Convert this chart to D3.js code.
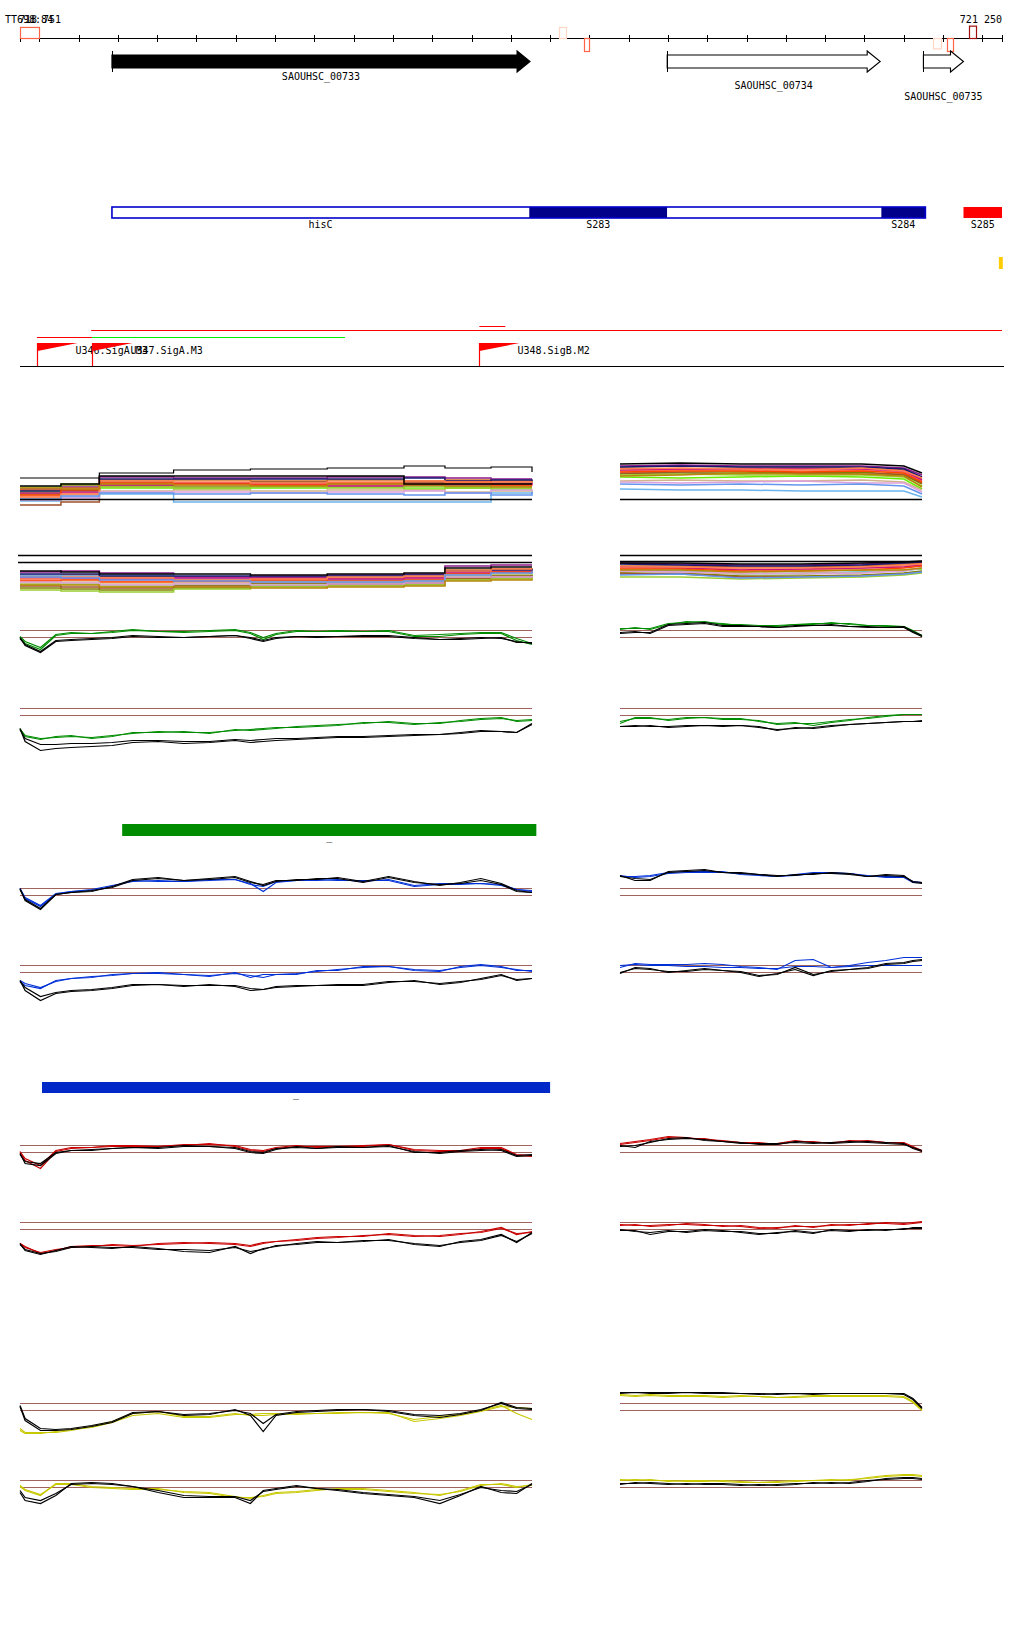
<!DOCTYPE html>
<html>
<head>
<meta charset="utf-8">
<script src="https://cdn.jsdelivr.net/npm/d3@7"></script>
<style>
body { margin: 0; background: #fff; }
svg { display: block; }
text { font-family: "DejaVu Sans Mono", monospace; font-size: 10px; fill: #000; }
</style>
</head>
<body>
<svg id="chart" width="1024" height="1640"></svg>
<script>
// region shown on the ruler
var regionStart = 718751, regionEnd = 721250;
var regionLabels = ["TT698:84", "718 751", "721 250"];

// start sites drawn on the ruler
var tssStart = [718751, 720123, 720187, 721075, 721111, 721167];
var tssEnd = [718799, 720141, 720200, 721096, 721126, 721185];
var tssStrand = ["+", "+", "-", "-", "-", "+"];
var tssScore = [0.85, 0.85, 1, 0.8, 1, 0.95];
var tssLevel = [2, 1, 2, 1, 2, 3];

// genes
var geneNames = ["SAOUHSC_00733", "SAOUHSC_00734", "SAOUHSC_00735"];
var geneStart = [718985, 720398, 721050];
var geneEnd = [720049, 720940, 721152];
var geneFilled = [true, false, false];

// operon track
var operonNames = ["hisC", "S283", "", "S284", "S285"];
var operonStart = [718985, 720047, 720398, 720943, 721152];
var operonEnd = [720047, 720398, 720943, 721055, 721250];
var operonKind = ["open", "solid", "open", "solid", "new"];
var markStart = [721242], markEnd = [721252];

// promoters and segments
var promoterNames = ["U346.SigA.M3", "U347.SigA.M3", "U348.SigB.M2"];
var promoterPos = [718794, 718934, 719920];
var segStart = [718932, 719920, 718794, 718934];
var segEnd = [721250, 719986, 718934, 719578];
var segKind = ["red", "red", "red", "green"];
var segRow = [1, 0, 2, 2];

// condition bars
var greenBar = [719011, 720065];
var blueBar = [718807, 720100];

// probe positions (percent along each profile)
var leftPos = [0, 1, 4, 7, 10, 14, 18, 22, 27, 32, 37, 42, 45, 47.5, 50, 54, 58, 62, 67, 72, 77, 82, 86, 90, 94, 97, 100];
var rightPos = [0, 5, 10, 16, 22, 28, 34, 40, 46, 52, 58, 64, 70, 76, 82, 88, 94, 97, 100];
var thresholds = [0, -7];

// profiles, left gene
var p3La = [-7,-13,-19,-5,-3,-3,-2,0,-1,-2,-1,0,-3,-9,-4,-1,-1,-1,-1,-1,-6,-6,-4,-3,-3,-10,-14];
var p3Lb = [-6,-11,-17,-4,-2,-3,-1,1,-1,-1,0,1,-2,-7,-3,0,-1,0,-1,0,-5,-4,-3,-2,-2,-8,-13];
var p3Lc = [-7,-15,-22,-11,-10,-9,-8,-6,-7,-7,-6,-5,-7,-10,-7,-6,-6,-6,-6,-6,-8,-9,-8,-7,-8,-11,-13];
var p3Ld = [-8,-14,-21,-10,-9,-8,-7,-5,-6,-7,-6,-5,-8,-11,-8,-6,-7,-6,-5,-5,-7,-9,-9,-8,-7,-12,-12];
var p4La = [-20,-28,-31,-28,-27,-30,-28,-24,-24,-23,-25,-21,-22,-21,-20,-18,-17,-16,-15,-13,-15,-15,-12,-10,-9,-13,-12];
var p4Lb = [-21,-27,-30,-29,-28,-29,-27,-25,-23,-24,-24,-22,-21,-20,-19,-19,-18,-17,-14,-14,-16,-14,-13,-11,-10,-12,-11];
var p4Lc = [-20,-33,-42,-40,-39,-38,-37,-34,-33,-35,-34,-32,-34,-33,-32,-31,-30,-29,-29,-28,-27,-26,-25,-23,-23,-24,-15];
var p4Ld = [-21,-30,-36,-36,-35,-35,-34,-32,-32,-33,-33,-31,-32,-31,-30,-30,-29,-28,-28,-27,-26,-26,-24,-22,-23,-24,-16];
var p5La = [0,-10,-18,-6,-3,-2,2,8,7,7,9,9,5,-3,6,8,8,9,7,9,3,5,5,5,3,-1,-2];
var p5Lb = [0,-9,-17,-5,-3,-1,3,7,8,7,8,9,4,2,7,8,9,8,8,8,2,4,4,5,4,-1,-3];
var p5Lc = [0,-12,-21,-6,-4,-3,2,9,11,8,10,12,7,3,7,9,9,11,7,12,7,3,6,10,5,-2,-4];
var p5Ld = [-1,-11,-20,-6,-4,-2,1,8,10,8,9,11,6,4,8,8,10,10,6,11,6,4,5,8,4,-3,-4];
var p6La = [-16,-20,-23,-15,-13,-11,-10,-8,-7,-9,-11,-7,-12,-9,-9,-9,-5,-5,-1,-1,-5,-6,-1,1,-1,-5,-5];
var p6Lb = [-15,-18,-22,-16,-13,-12,-9,-8,-8,-9,-10,-8,-10,-12,-9,-8,-6,-4,-2,-1,-4,-5,-2,0,-2,-4,-6];
var p6Lc = [-15,-25,-35,-28,-26,-25,-23,-20,-19,-21,-19,-21,-25,-24,-22,-21,-20,-20,-20,-17,-15,-19,-17,-13,-9,-15,-13];
var p6Ld = [-16,-22,-31,-27,-25,-24,-22,-19,-19,-20,-20,-20,-23,-24,-21,-20,-20,-19,-19,-16,-16,-18,-16,-14,-10,-14,-13];
var p7La = [-7,-15,-23,-6,-3,-2,-1,-1,-1,0,2,-1,-5,-6,-3,-1,-1,-1,-1,1,-5,-6,-6,-3,-3,-10,-11];
var p7Lb = [-6,-13,-20,-5,-2,-2,0,0,-1,1,1,0,-4,-5,-2,0,-2,-1,0,1,-4,-5,-5,-2,-2,-9,-10];
var p7Lc = [-8,-18,-20,-8,-5,-5,-3,-2,-2,0,-1,-3,-7,-8,-4,-1,-3,-1,-2,0,-7,-7,-5,-4,-5,-11,-10];
var p7Ld = [-9,-16,-18,-7,-5,-4,-3,-2,-3,-1,-1,-2,-6,-7,-3,-2,-3,-2,-2,-1,-6,-8,-6,-5,-4,-10,-9];
var p8La = [-21,-24,-31,-28,-24,-23,-23,-24,-21,-20,-21,-22,-24,-21,-19,-17,-15,-14,-14,-11,-13,-14,-12,-9,-5,-12,-9];
var p8Lb = [-21,-25,-30,-27,-25,-24,-22,-23,-22,-21,-20,-21,-23,-20,-19,-18,-16,-15,-13,-12,-14,-13,-11,-10,-6,-11,-10];
var p8Lc = [-21,-28,-32,-28,-24,-25,-26,-24,-26,-29,-30,-24,-31,-26,-24,-21,-19,-20,-19,-17,-22,-24,-19,-17,-12,-20,-10];
var p8Ld = [-22,-27,-31,-29,-25,-24,-25,-25,-27,-27,-28,-25,-29,-27,-23,-22,-20,-20,-18,-18,-21,-23,-20,-18,-13,-19,-11];
var p9La = [-25,-29,-29,-29,-27,-23,-18,-10,-8,-13,-13,-10,-12,-12,-11,-10,-10,-10,-9,-10,-16,-13,-11,-7,-2,-10,-16];
var p9Lb = [-27,-30,-30,-28,-26,-24,-19,-12,-10,-14,-14,-11,-11,-10,-10,-11,-10,-9,-9,-9,-18,-15,-12,-8,-3,-4,-5];
var p9Lc = [-3,-17,-27,-27,-26,-23,-19,-10,-8,-12,-11,-6,-12,-28,-12,-9,-8,-7,-6,-8,-12,-14,-11,-7,1,-4,-5];
var p9Ld = [-2,-15,-25,-26,-25,-22,-18,-9,-8,-11,-10,-7,-10,-20,-11,-8,-7,-6,-6,-7,-11,-12,-10,-6,0,-5,-6];
var p10La = [-6,-10,-15,-3,-3,-6,-7,-8,-8,-12,-13,-17,-17,-16,-13,-12,-10,-8,-8,-10,-12,-15,-10,-4,-4,-7,-4];
var p10Lb = [-5,-9,-14,-4,-4,-7,-8,-9,-9,-11,-12,-16,-18,-15,-12,-11,-9,-9,-9,-11,-13,-14,-11,-5,-3,-6,-5];
var p10Lc = [-12,-20,-23,-15,-3,-2,-3,-6,-12,-17,-17,-17,-23,-10,-8,-5,-8,-10,-13,-15,-17,-23,-15,-6,-12,-13,-3];
var p10Ld = [-10,-17,-20,-13,-4,-3,-4,-6,-10,-15,-16,-16,-20,-11,-9,-6,-8,-9,-12,-14,-16,-20,-14,-7,-10,-11,-4];

// profiles, right gene
var p3Ra = [2,2,2,7,8,9,6,6,5,5,6,7,7,7,5,4,4,0,-5];
var p3Rb = [1,3,1,6,9,8,7,5,4,4,6,6,8,6,5,5,4,-1,-6];
var p3Rc = [-3,-2,-2,6,7,8,5,5,4,3,5,5,6,4,4,3,4,-1,-5];
var p3Rd = [-2,-1,-3,5,6,7,4,4,4,3,4,5,5,4,3,3,3,-2,-6];
var p4Ra = [-15,-9,-9,-12,-10,-9,-10,-10,-13,-15,-14,-17,-14,-12,-9,-7,-6,-6,-6];
var p4Rb = [-13,-10,-10,-11,-9,-9,-11,-11,-12,-16,-15,-15,-13,-11,-10,-8,-6,-6,-6];
var p4Rc = [-18,-17,-18,-18,-17,-17,-17,-17,-18,-22,-19,-20,-18,-16,-15,-14,-13,-13,-13];
var p4Rd = [-18,-18,-17,-19,-18,-17,-18,-17,-19,-21,-20,-19,-17,-16,-15,-14,-13,-13,-12];
var p5Ra = [12,12,13,16,17,17,17,14,13,12,14,16,16,15,12,12,12,7,6];
var p5Rb = [13,11,12,15,16,16,16,15,14,12,13,15,15,15,13,11,11,6,6];
var p5Rc = [13,8,8,17,18,19,16,15,14,12,14,14,16,15,12,13,12,7,6];
var p5Rd = [12,10,9,16,17,18,16,16,14,13,13,15,15,14,12,14,13,6,5];
var p6Ra = [-2,2,1,1,1,2,1,-1,-2,-4,5,6,-2,0,3,5,8,8,8];
var p6Rb = [0,1,0,0,-1,-1,-2,-2,-3,-3,-1,-1,-2,-1,0,0,0,0,0];
var p6Rc = [-8,-2,-3,-7,-5,-3,-5,-6,-10,-9,-2,-9,-6,-4,-2,2,3,5,6];
var p6Rd = [-7,-3,-4,-6,-6,-4,-5,-7,-11,-8,-4,-10,-5,-4,-3,1,2,4,5];
var p7Ra = [2,4,6,9,8,6,5,3,2,2,5,3,3,4,5,3,2,-2,-6];
var p7Rb = [1,3,5,8,7,7,4,3,3,1,4,4,2,5,4,3,3,-1,-5];
var p7Rc = [-1,0,3,7,8,5,4,3,1,1,4,3,2,3,4,3,2,-3,-6];
var p7Rd = [0,-2,4,6,7,6,4,2,2,2,3,2,3,4,3,2,1,-2,-5];
var p8Ra = [-3,-2,-4,-3,-1,-2,-4,-3,-5,-6,-3,-5,-2,-3,-1,-1,-2,-1,0];
var p8Rb = [-2,-3,-3,-2,-2,-3,-3,-4,-6,-5,-4,-4,-3,-2,-2,0,-1,0,1];
var p8Rc = [-8,-8,-12,-9,-9,-7,-8,-10,-12,-10,-9,-11,-7,-8,-8,-7,-7,-5,-5];
var p8Rd = [-7,-9,-10,-8,-10,-8,-9,-9,-11,-11,-8,-10,-8,-9,-7,-8,-6,-6,-6];
var p9Ra = [9,8,9,8,8,8,7,8,7,6,7,8,8,8,8,8,7,2,-6];
var p9Rb = [8,7,8,7,7,7,6,7,7,6,6,7,7,7,7,7,6,1,-7];
var p9Rc = [11,11,11,11,11,11,11,10,9,10,10,10,10,10,10,10,10,5,-4];
var p9Rd = [10,11,10,10,11,10,10,10,10,9,10,9,10,10,10,10,9,4,-5];
var p10Ra = [0,1,0,0,-1,-1,0,-1,-2,-2,-1,0,1,0,3,5,6,6,5];
var p10Rb = [1,0,1,-1,0,0,-1,-2,-2,-1,0,0,0,1,2,4,5,5,4];
var p10Rc = [-3,-3,-2,-3,-4,-3,-3,-4,-5,-4,-3,-3,-2,-3,-1,2,3,3,2];
var p10Rd = [-4,-2,-3,-4,-3,-4,-4,-5,-4,-5,-4,-2,-3,-2,0,1,2,2,1];

// many-condition profiles
var mcPosL = [0, 8, 15.5, 30, 45, 60, 75, 83, 92, 100];
var mcPosR = [0, 20, 40, 60, 80, 94, 100];
var mc1L = [
  [10,12,22,21,21,22,22,21,20,20], [9,11,19,19,18,19,18,19,18,17], [5,14,13,12,13,14,13,12,13,13],
  [7,8,11,10,11,12,10,11,10,10], [3,6,15,14,15,14,16,15,14,13], [-2,2,5,-3,-3,-3,-3,-3,6,8],
  [-6,-3,17,16,17,16,17,16,16,15], [8,9,20,20,20,20,21,18,19,18], [6,7,14,16,15,13,14,14,15,16],
  [4,9,16,15,14,16,15,17,14,14], [1,4,8,9,8,9,9,7,8,9], [12,15,12,11,12,11,12,11,11,11],
  [-1,1,7,7,6,7,8,6,9,10], [2,5,18,17,16,17,18,17,17,17], [0,3,6,5,6,5,4,6,4,7],
  [11,10,15,14,13,15,14,13,12,12], [13,15,23,23,23,23,15,15,15,15]
];
var mc1LTop = [21,21,26,29,30,31,33,31,32,27];
var mc1R = [
  [33,34,33,33,33,31,24], [31,30,31,31,31,29,20], [25,27,27,26,27,24,15], [22,21,22,23,22,20,10],
  [28,29,29,28,29,27,18], [10,9,9,8,8,8,2], [26,26,25,26,25,25,16], [32,33,32,32,32,30,22],
  [29,30,30,30,30,28,19], [27,28,28,27,28,26,17], [18,19,18,18,19,17,9], [24,25,24,24,24,22,13],
  [17,16,17,18,16,16,7], [30,31,30,29,31,28,21], [15,14,15,14,15,13,5], [23,24,26,25,25,23,12],
  [35,36,35,35,35,33,26]
];
var mc2L = [
  [-10,-9,-11,-15,-14,-13,-12,-4,-3,-3], [-14,-13,-15,-18,-17,-16,-15,-8,-7,-6], [-26,-27,-28,-26,-24,-23,-22,-17,-16,-15],
  [-22,-22,-24,-23,-22,-21,-20,-14,-13,-12], [-18,-17,-19,-20,-19,-18,-17,-10,-9,-8], [-13,-14,-13,-17,-19,-18,-18,-12,-11,-10],
  [-24,-25,-26,-24,-21,-22,-21,-16,-14,-13], [-12,-12,-14,-14,-15,-14,-13,-9,-8,-7], [-16,-16,-17,-16,-16,-17,-16,-11,-10,-9],
  [-19,-18,-20,-19,-18,-19,-18,-12,-10,-11], [-21,-20,-22,-21,-20,-20,-19,-13,-12,-12], [-28,-29,-30,-27,-25,-24,-23,-18,-17,-16],
  [-20,-21,-23,-22,-23,-22,-21,-15,-15,-14], [-17,-15,-16,-18,-17,-15,-14,-9,-7,-7], [-15,-16,-18,-19,-20,-20,-19,-13,-11,-9],
  [-23,-23,-25,-25,-26,-25,-24,-19,-18,-17], [-9,-10,-12,-12,-13,-12,-11,-6,-5,-5]
];
var mc2R = [
  [-2,-3,-4,-4,-3,-2,-1], [-5,-5,-6,-6,-5,-3,-2], [-13,-12,-15,-15,-14,-12,-10], [-11,-10,-12,-13,-11,-9,-8],
  [-7,-7,-8,-9,-7,-5,-4], [-9,-10,-13,-12,-11,-10,-7], [-12,-13,-16,-16,-15,-13,-11], [-3,-4,-5,-5,-4,-2,-1],
  [-6,-7,-9,-8,-7,-6,-4], [-8,-8,-10,-10,-9,-7,-5], [-10,-11,-13,-12,-12,-9,-7], [-16,-16,-18,-17,-16,-14,-12],
  [-10,-11,-12,-13,-12,-10,-7], [-6,-6,-7,-7,-6,-4,-3], [-14,-13,-17,-16,-15,-13,-11], [-9,-9,-11,-10,-9,-9,-7],
  [-2,-2,-3,-3,-2,-1,0]
];
var mcColors = ["#8b1a8b","#d2691e","#808000","#66ee00","#fa8072","#6cb4ee","#a0522d","#191970",
  "#c71585","#ff4500","#d2b48c","#9acd32","#dda0dd","#ff7f50","#6495ed","#b8860b","#000000"];

var svg = d3.select("#chart");
var x = d3.scaleLinear().domain([regionStart, regionEnd]).range([20, 1002]);
var xL = d3.scaleLinear().domain([0, 100]).range([20, 532]);
var xR = d3.scaleLinear().domain([0, 100]).range([620, 922]);
function px(v) { return Math.round(v) + 0.5; }

// ruler
var rulerY = 38.5;
svg.append("line").attr("x1", x(regionStart)).attr("x2", x(regionEnd))
  .attr("y1", rulerY).attr("y2", rulerY).attr("stroke", "#000");
var tickVals = [regionStart].concat(x.ticks(25), [regionEnd]);
svg.selectAll(".tick").data(tickVals).enter().append("line")
  .attr("x1", function(d){ return px(x(d)); }).attr("x2", function(d){ return px(x(d)); })
  .attr("y1", 35).attr("y2", 42).attr("stroke", "#000");
svg.append("text").attr("x", 5).attr("y", 23).text(regionLabels[0]);
svg.append("text").attr("x", 19).attr("y", 23).text(regionLabels[1]);
svg.append("text").attr("x", 1002).attr("y", 23).attr("text-anchor", "end").text(regionLabels[2]);

var tssH = d3.scaleLinear().domain([0, 1]).range([0, 13]);
var tssCol = d3.scaleOrdinal().domain([1, 2, 3]).range(["#ffd6c4", "#ff6446", "#a01010"]);
tssStart.forEach(function(s, i){
  var h = tssH(tssScore[i]);
  svg.append("rect").attr("x", px(x(s))).attr("width", Math.max(4, Math.round(x(tssEnd[i]) - x(s))))
    .attr("y", tssStrand[i] === "+" ? rulerY - h : rulerY).attr("height", h)
    .attr("fill", "none").attr("stroke", tssCol(tssLevel[i])).attr("stroke-width", 1.2);
});

// genes
var geneY = 61.5, bodyH = 6.5, headH = 10.5, headL = 13;
var geneLabelY = [80, 89, 100];
geneNames.forEach(function(name, i){
  var x0 = x(geneStart[i]), x1 = x(geneEnd[i]);
  var p = d3.path();
  p.moveTo(x0, geneY - bodyH); p.lineTo(x1 - headL, geneY - bodyH); p.lineTo(x1 - headL, geneY - headH);
  p.lineTo(x1, geneY); p.lineTo(x1 - headL, geneY + headH); p.lineTo(x1 - headL, geneY + bodyH);
  p.lineTo(x0, geneY + bodyH); p.closePath();
  svg.append("path").attr("d", p.toString())
    .attr("fill", geneFilled[i] ? "#000" : "#fff").attr("stroke", "#000").attr("stroke-width", 1.1);
  svg.append("line").attr("x1", px(x0)).attr("x2", px(x0)).attr("y1", geneY - headH).attr("y2", geneY + headH)
    .attr("stroke", "#000");
  svg.append("text").attr("x", (x0 + x1) / 2).attr("y", geneLabelY[i]).attr("text-anchor", "middle").text(name);
});

// operon track
var opY = 207, opH = 11;
var opFill = { open: "#fff", solid: "#00008b", "new": "#ff0000" };
operonNames.forEach(function(name, i){
  svg.append("rect").attr("x", x(operonStart[i])).attr("width", x(operonEnd[i]) - x(operonStart[i]))
    .attr("y", opY).attr("height", opH).attr("fill", opFill[operonKind[i]]);
  if (name) svg.append("text").attr("x", (x(operonStart[i]) + x(operonEnd[i])) / 2).attr("y", 228)
    .attr("text-anchor", "middle").text(name);
});
svg.append("rect").attr("x", x(operonStart[0])).attr("width", x(operonEnd[3]) - x(operonStart[0]))
  .attr("y", opY).attr("height", opH).attr("fill", "none").attr("stroke", "#0000cc").attr("stroke-width", 1.6);
svg.append("rect").attr("x", x(markStart[0])).attr("width", x(markEnd[0]) - x(markStart[0]))
  .attr("y", 257).attr("height", 12).attr("fill", "#ffcc00");

// promoter track
var segY = [326.5, 330.5, 337.5];
var segCol = { red: "#ff0000", green: "#00ee00" };
segStart.forEach(function(s, i){
  svg.append("line").attr("x1", x(s)).attr("x2", x(segEnd[i])).attr("y1", segY[segRow[i]]).attr("y2", segY[segRow[i]])
    .attr("stroke", segCol[segKind[i]]);
});
svg.append("line").attr("x1", 20).attr("x2", 1004).attr("y1", 366.5).attr("y2", 366.5).attr("stroke", "#000").attr("stroke-width", 1.2);
promoterNames.forEach(function(name, i){
  var x0 = px(x(promoterPos[i]));
  svg.append("line").attr("x1", x0).attr("x2", x0).attr("y1", 343).attr("y2", 366).attr("stroke", "#ff0000").attr("stroke-width", 1.2);
  svg.append("path").attr("d", "M" + x0 + ",343L" + (x0 + 40) + ",343L" + x0 + ",351Z").attr("fill", "#ff0000");
  svg.append("text").attr("x", x0 + 38).attr("y", 354).text(name);
});

// condition bars
svg.append("rect").attr("x", x(greenBar[0])).attr("width", x(greenBar[1]) - x(greenBar[0]))
  .attr("y", 824).attr("height", 12).attr("fill", "#008c00");
svg.append("text").attr("x", (x(greenBar[0]) + x(greenBar[1])) / 2).attr("y", 840).attr("text-anchor", "middle").text("_");
svg.append("rect").attr("x", x(blueBar[0])).attr("width", x(blueBar[1]) - x(blueBar[0]))
  .attr("y", 1082).attr("height", 11).attr("fill", "#0028c8");
svg.append("text").attr("x", (x(blueBar[0]) + x(blueBar[1])) / 2).attr("y", 1097).attr("text-anchor", "middle").text("_");

// many-condition panels
function mcPanel(series, pos, xs, base, curve, width) {
  var y = d3.scaleLinear().domain([0, 1]).range([base, base - 1]);
  var line = d3.line().x(function(d, i){ return xs(pos[i]); }).y(function(d){ return y(d); }).curve(curve);
  series.forEach(function(s, k){
    svg.append("path").attr("d", line(s)).attr("fill", "none")
      .attr("stroke", mcColors[k % mcColors.length]).attr("stroke-width", width);
  });
  return { y: y, line: line };
}
var m1 = mcPanel(mc1L, mcPosL, xL, 499, d3.curveStepAfter, 1.5);
svg.append("path").attr("d", m1.line(mc1LTop)).attr("fill", "none").attr("stroke", "#000").attr("stroke-width", 1.2);
mcPanel(mc1R, mcPosR, xR, 499, d3.curveLinear, 1.5);
mcPanel(mc2L, mcPosL, xL, 562, d3.curveStepAfter, 1.5);
mcPanel(mc2R, mcPosR, xR, 561, d3.curveLinear, 1.5);
[[20, 532, 499.5], [620, 922, 499.5], [18, 532, 555.5], [18, 532, 562.5], [620, 922, 555.5], [620, 922, 561.5]]
  .forEach(function(r){
    svg.append("line").attr("x1", r[0]).attr("x2", r[1]).attr("y1", r[2]).attr("y2", r[2])
      .attr("stroke", "#000").attr("stroke-width", 1.3);
  });

// two-condition panels
var panels = [
  { top: 630.5, color: "#008c00", L: [p3La, p3Lb, p3Lc, p3Ld], R: [p3Ra, p3Rb, p3Rc, p3Rd] },
  { top: 708.5, color: "#008c00", L: [p4La, p4Lb, p4Lc, p4Ld], R: [p4Ra, p4Rb, p4Rc, p4Rd] },
  { top: 888.5, color: "#0030d8", L: [p5La, p5Lb, p5Lc, p5Ld], R: [p5Ra, p5Rb, p5Rc, p5Rd] },
  { top: 965.5, color: "#0030d8", L: [p6La, p6Lb, p6Lc, p6Ld], R: [p6Ra, p6Rb, p6Rc, p6Rd] },
  { top: 1145.5, color: "#c80000", L: [p7La, p7Lb, p7Lc, p7Ld], R: [p7Ra, p7Rb, p7Rc, p7Rd] },
  { top: 1222.5, color: "#c80000", L: [p8La, p8Lb, p8Lc, p8Ld], R: [p8Ra, p8Rb, p8Rc, p8Rd] },
  { top: 1403.5, color: "#c8c800", L: [p9La, p9Lb, p9Lc, p9Ld], R: [p9Ra, p9Rb, p9Rc, p9Rd] },
  { top: 1480.5, color: "#c8c800", L: [p10La, p10Lb, p10Lc, p10Ld], R: [p10Ra, p10Rb, p10Rc, p10Rd] }
];
panels.forEach(function(p){
  var y = d3.scaleLinear().domain([0, 1]).range([p.top, p.top - 1]);
  [[p.L, leftPos, xL], [p.R, rightPos, xR]].forEach(function(side){
    var xs = side[2], pos = side[1];
    thresholds.forEach(function(t){
      svg.append("line").attr("x1", xs.range()[0]).attr("x2", xs.range()[1]).attr("y1", y(t)).attr("y2", y(t))
        .attr("stroke", "#a0645f").attr("stroke-width", 1.2);
    });
    var line = d3.line().x(function(d, i){ return xs(pos[i]); }).y(function(d){ return y(d); });
    side[0].forEach(function(s, k){
      svg.append("path").attr("d", line(s)).attr("fill", "none")
        .attr("stroke", k < 2 ? p.color : "#000").attr("stroke-width", 1.2);
    });
  });
});
</script>
</body>
</html>
